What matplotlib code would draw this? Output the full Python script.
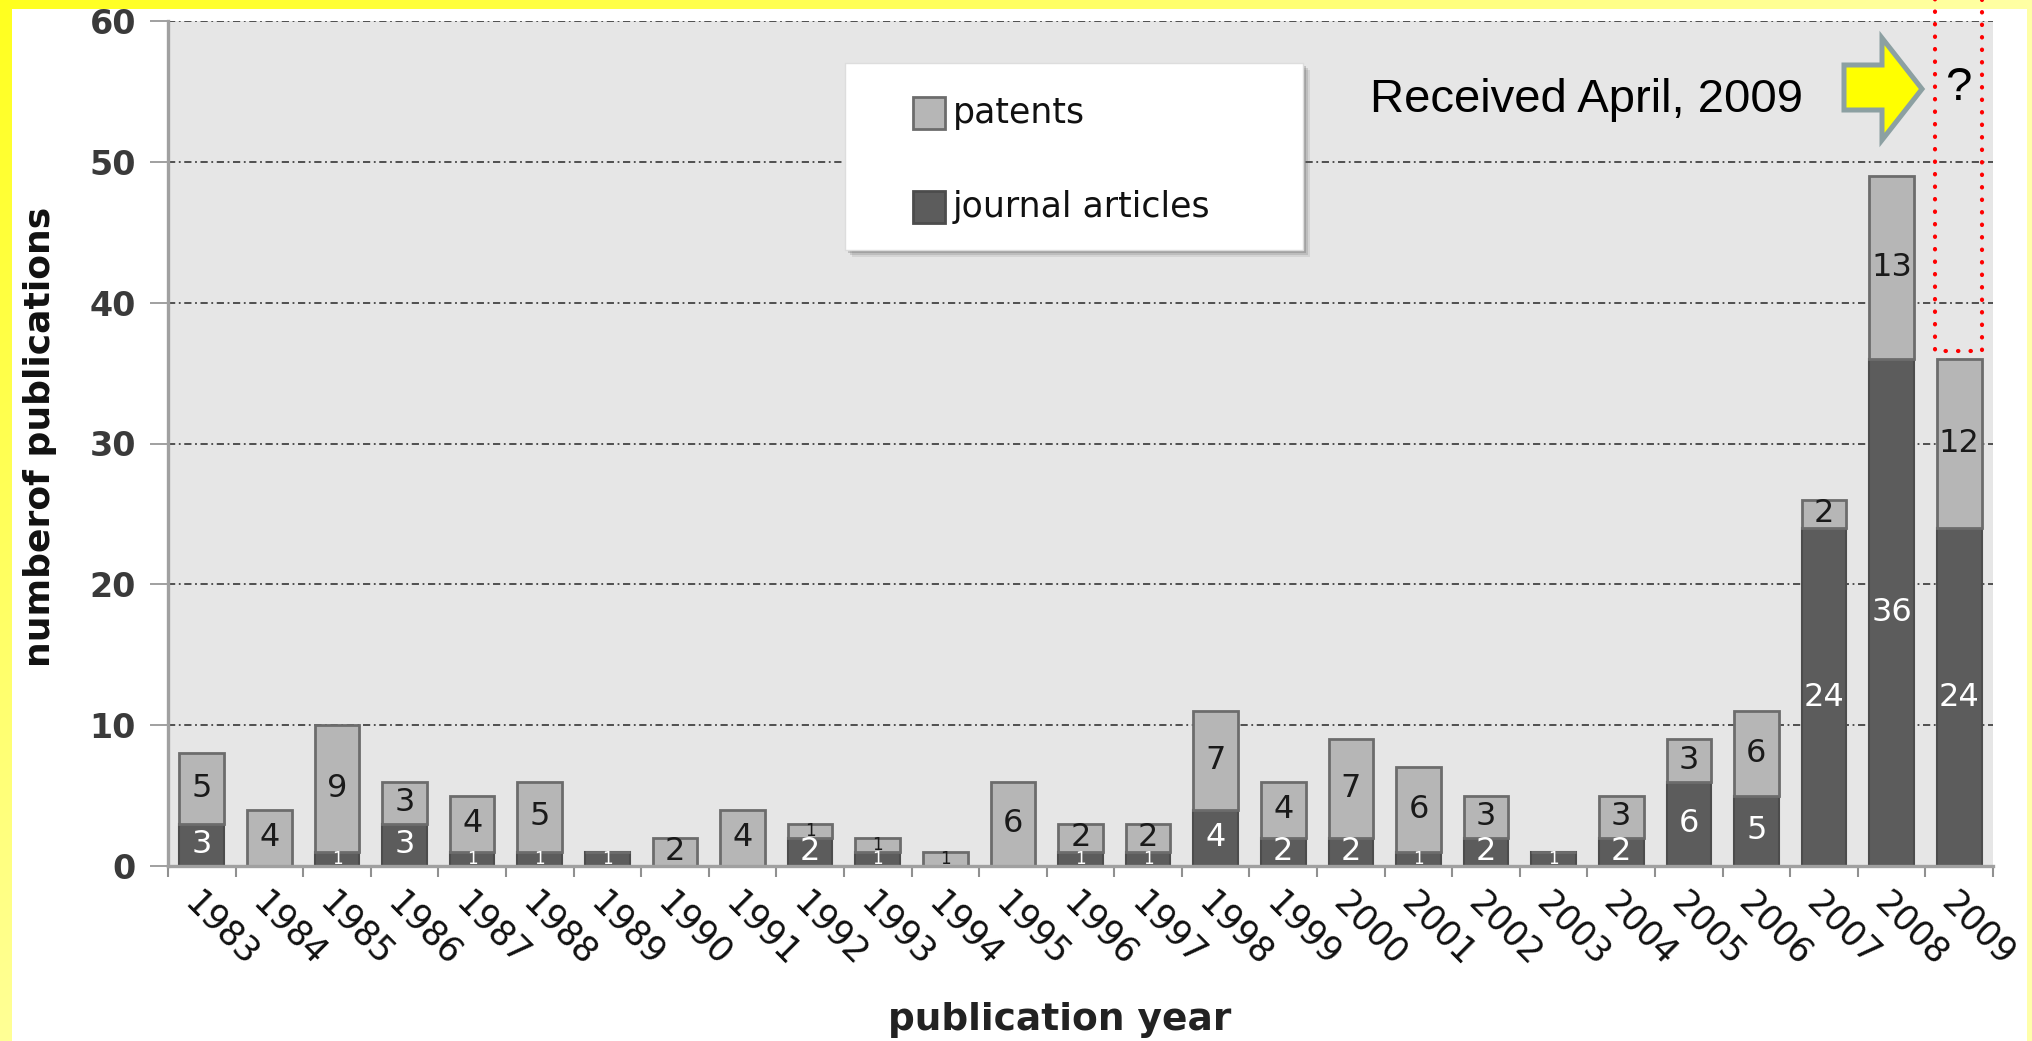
import numpy as np
import matplotlib
matplotlib.use("Agg")
from matplotlib import pyplot as plt
from matplotlib.patches import Rectangle, Polygon

# data
years = [1983, 1984, 1985, 1986, 1987, 1988, 1989, 1990, 1991, 1992, 1993, 1994, 1995,
         1996, 1997, 1998, 1999, 2000, 2001, 2002, 2003, 2004, 2005, 2006, 2007, 2008, 2009]
journal = [3, 0, 1, 3, 1, 1, 1, 0, 0, 2, 1, 0, 0, 1, 1, 4, 2, 2, 1, 2, 1, 2, 6, 5, 24, 36, 24]
patents = [5, 4, 9, 3, 4, 5, 0, 2, 4, 1, 1, 1, 6, 2, 2, 7, 4, 7, 6, 3, 0, 3, 3, 6, 2, 13, 12]
legend_labels = ["patents", "journal articles"]
yticks = [0, 10, 20, 30, 40, 50, 60]

W, H = 2033, 1041
def fx(px):
    return px / W
def fy(py):
    return 1 - py / H

fig = plt.figure(figsize=(W / 100, H / 100), dpi=100)

# yellow frame round the slide
xx, yy = np.meshgrid(np.arange(W) / W, np.arange(H) / H)
blue = 0.12 + 0.55 * np.clip(xx * 0.95 + yy * 0.85, 0, 1)
bg = np.ones((H, W, 3))
border = (xx * W < 12) | (yy * H < 9) | (xx * W >= 2027)
bg[..., 2] = np.where(border, blue, 1.0)
fig.figimage(bg, zorder=-1)

ax = fig.add_axes([fx(168), fy(866), (1993 - 168) / W, (866 - 21) / H])
ax.set_facecolor("#e6e6e6")
x = np.arange(len(years))
ax.set_xlim(-0.5, len(years) - 0.5)
ax.set_ylim(0, 60)

ax.yaxis.grid(True, linestyle=(0, (4, 2, 1, 2)), color="#444444", lw=1.3)
ax.set_axisbelow(True)

jb = ax.bar(x, journal, width=0.66, color="#5c5c5c", edgecolor="#4c4c4c", lw=1.5)
pb = ax.bar(x, patents, width=0.66, bottom=journal, color="#b6b6b6",
            edgecolor="#6c6c6c", lw=2)

# value labels, the 1s are squeezed in smaller
for i in range(len(years)):
    if journal[i] > 0:
        ax.text(x[i], journal[i] / 2, str(journal[i]), ha="center", va="center",
                color="white", fontsize=23 if journal[i] > 1 else 12)
    if patents[i] > 0:
        ax.text(x[i], journal[i] + patents[i] / 2, str(patents[i]), ha="center",
                va="center", color="#1a1a1a", fontsize=23 if patents[i] > 1 else 12)

for s in ["top", "right"]:
    ax.spines[s].set_visible(False)
for s in ["left", "bottom"]:
    ax.spines[s].set_color("#a0a0a0")
    ax.spines[s].set_linewidth(2.4)

ax.set_yticks(yticks)
ax.set_yticklabels([str(v) for v in yticks], fontsize=24, fontweight="bold", color="#3a3a3a")
ax.tick_params(axis="y", length=13, width=1.2, color="#909090", pad=10)

ax.set_xticks(x)
ax.set_xticklabels([str(y) for y in years], rotation=-45, ha="left", va="top",
                   rotation_mode="anchor", fontsize=25, color="#111111")
ax.tick_params(axis="x", length=0, pad=14)
ax.set_xticks(np.arange(len(years) + 1) - 0.5, minor=True)
ax.tick_params(axis="x", which="minor", length=8, width=1.5, color="#909090")

# dotted red box over 2009
i9 = len(years) - 1
ax.plot([i9 - 0.355, i9 - 0.355, i9 + 0.33, i9 + 0.33], [61.6, 36.6, 36.6, 61.6],
        color="red", lw=3, linestyle=(0, (0.1, 2.9)), dash_capstyle="round",
        clip_on=False, zorder=6)

# axis titles
fig.text(fx(40), fy(437), "numberof publications", rotation=90, ha="center",
         va="center", fontsize=26, fontweight="bold", color="#111111")
fig.text(fx(1060), fy(1020), "publication year", ha="center", va="center",
         fontsize=27, fontweight="bold", color="#222222")

# legend box
lx0, ly0, lx1, ly1 = 845, 63, 1303, 250
for k, a in enumerate([0.12, 0.18, 0.25]):
    off = 7 - 2 * k
    fig.patches.append(Rectangle((fx(lx0 + off), fy(ly1 + off)), (lx1 - lx0) / W,
                                 (ly1 - ly0) / H, transform=fig.transFigure,
                                 facecolor="#555555", alpha=a, lw=0, zorder=5))
fig.patches.append(Rectangle((fx(lx0), fy(ly1)), (lx1 - lx0) / W, (ly1 - ly0) / H,
                             transform=fig.transFigure, facecolor="white",
                             edgecolor="#dddddd", lw=1, zorder=6))
for lab, cy, fc, ec in [(legend_labels[0], 113, "#b6b6b6", "#6c6c6c"),
                        (legend_labels[1], 207, "#5c5c5c", "#4c4c4c")]:
    fig.patches.append(Rectangle((fx(913), fy(cy + 16)), 32 / W, 32 / H,
                                 transform=fig.transFigure, facecolor=fc,
                                 edgecolor=ec, lw=2, zorder=7))
    fig.text(fx(953), fy(cy), lab, ha="left", va="center", fontsize=25,
             color="#111111", zorder=8)

# annotation
fig.text(fx(1370), fy(100), "Received April, 2009", ha="left", va="center",
         fontsize=34, family="Liberation Sans", color="black")
fig.text(fx(1958), fy(88), "?", ha="center", va="center",
         fontsize=34, family="Liberation Sans", color="black")
arrow_px = [(1844, 65), (1882, 65), (1882, 38), (1922, 89), (1882, 140), (1882, 110), (1844, 110)]
fig.patches.append(Polygon([(fx(a), fy(b)) for a, b in arrow_px], closed=True,
                           transform=fig.transFigure, facecolor="#ffff00",
                           edgecolor="#8ca0a2", lw=3.6, joinstyle="miter", zorder=7))

fig.savefig("out.png", dpi=100)
